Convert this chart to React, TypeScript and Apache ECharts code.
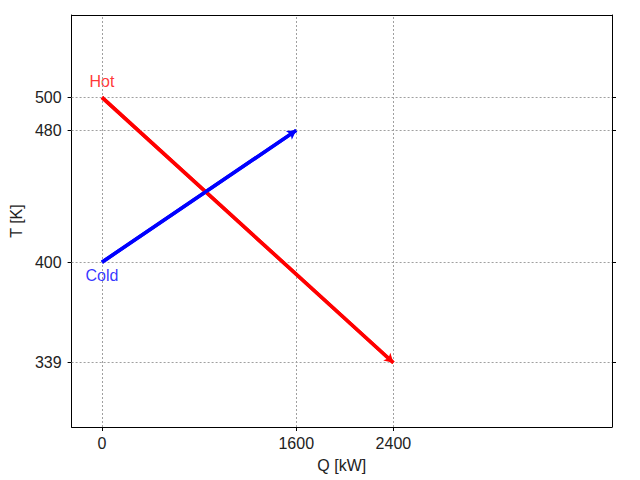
import React, { useEffect, useRef } from "react";
import * as echarts from "echarts";

const hotQ = [0, 2400];
const hotT = [500, 339];
const coldQ = [0, 1600];
const coldT = [400, 480];
const xTicks = [0, 1600, 2400];
const yTicks = [339, 400, 480, 500];
const xRange = [-250, 4200];
const yRange = [300, 550];

const FONT = "Liberation Sans";
const FS = 16;

export default function App() {
  const ref = useRef<HTMLDivElement>(null);
  useEffect(() => {
    const chart = echarts.init(ref.current!, null, { renderer: "svg" });
    const hotData = hotQ.map((q, i) => [q, hotT[i]]);
    const coldData = coldQ.map((q, i) => [q, coldT[i]]);
    const gridStyle = { color: "#a0a0a0", width: 1, type: [2, 2] as any };
    const arrowLine = (data: number[][], color: string) => ({
      silent: true,
      symbol: ["none", "arrow"],
      symbolSize: [8, 9],
      label: { show: false },
      lineStyle: { color, width: 3.5, type: "solid" as any },
      data: [[{ coord: data[0] }, { coord: data[data.length - 1] }]],
    });
    const fmt = (v: number) => String(v);
    chart.setOption({
      animation: false,
      textStyle: { fontFamily: FONT, fontSize: FS },
      grid: { left: 68, top: 15, right: 28, bottom: 53 },
      xAxis: [
        {
          type: "value",
          min: xRange[0],
          max: xRange[1],
          position: "bottom",
          name: "Q [kW]",
          nameLocation: "middle",
          nameGap: 30,
          nameTextStyle: { fontSize: FS, color: "#222", fontFamily: FONT },
          axisLine: { show: true, onZero: false, lineStyle: { color: "#000", width: 1 } },
          axisTick: { show: true, length: 4, customValues: xTicks, lineStyle: { color: "#000" } },
          axisLabel: { customValues: xTicks, formatter: fmt, fontSize: FS, color: "#222", margin: 8, fontFamily: FONT },
          splitLine: { show: false },
        },
        {
          type: "value",
          min: xRange[0],
          max: xRange[1],
          position: "top",
          axisLine: { show: true, onZero: false, lineStyle: { color: "#000", width: 1 } },
          axisTick: { show: false },
          axisLabel: { show: false },
          splitLine: { show: false },
        },
      ],
      yAxis: [
        {
          type: "value",
          min: yRange[0],
          max: yRange[1],
          position: "left",
          name: "T [K]",
          nameLocation: "middle",
          nameGap: 47,
          nameTextStyle: { fontSize: FS, color: "#222", fontFamily: FONT },
          axisLine: { show: true, onZero: false, lineStyle: { color: "#000", width: 1 } },
          axisTick: { show: true, length: 4, customValues: yTicks, lineStyle: { color: "#000" } },
          axisLabel: { customValues: yTicks, formatter: fmt, fontSize: FS, color: "#222", margin: 10, fontFamily: FONT },
          splitLine: { show: false },
        },
        {
          type: "value",
          min: yRange[0],
          max: yRange[1],
          position: "right",
          axisLine: { show: true, onZero: false, lineStyle: { color: "#000", width: 1 } },
          axisTick: { show: true, length: 4, customValues: yTicks, lineStyle: { color: "#000" } },
          axisLabel: { show: false },
          splitLine: { show: false },
        },
      ],
      series: [
        {
          type: "line",
          data: [],
          z: 1,
          markLine: {
            silent: true,
            symbol: ["none", "none"],
            label: { show: false },
            lineStyle: gridStyle,
            data: [
              ...xTicks.map((v) => ({ xAxis: v })),
              ...yTicks.map((v) => ({ yAxis: v })),
            ],
          },
        },
        {
          type: "line",
          data: hotData,
          showSymbol: false,
          z: 3,
          lineStyle: { color: "#ff0000", width: 3.5 },
          markLine: arrowLine(hotData, "#ff0000"),
        },
        {
          type: "line",
          data: coldData,
          showSymbol: false,
          z: 3,
          lineStyle: { color: "#0000ff", width: 3.5 },
          markLine: arrowLine(coldData, "#0000ff"),
        },
        {
          type: "scatter",
          symbolSize: 0,
          silent: true,
          data: [hotData[0]],
          label: {
            show: true,
            formatter: "Hot",
            position: "top",
            distance: 8,
            color: "#ff0000",
            fontSize: FS,
            fontFamily: FONT,
          },
        },
        {
          type: "scatter",
          symbolSize: 0,
          silent: true,
          data: [coldData[0]],
          label: {
            show: true,
            formatter: "Cold",
            position: "bottom",
            distance: 5,
            color: "#0000ff",
            fontSize: FS,
            fontFamily: FONT,
          },
        },
      ],
    });
    return () => chart.dispose();
  }, []);
  return <div ref={ref} style={{ width: 640, height: 480, position: "absolute", left: 0, top: 0 }} />;
}
